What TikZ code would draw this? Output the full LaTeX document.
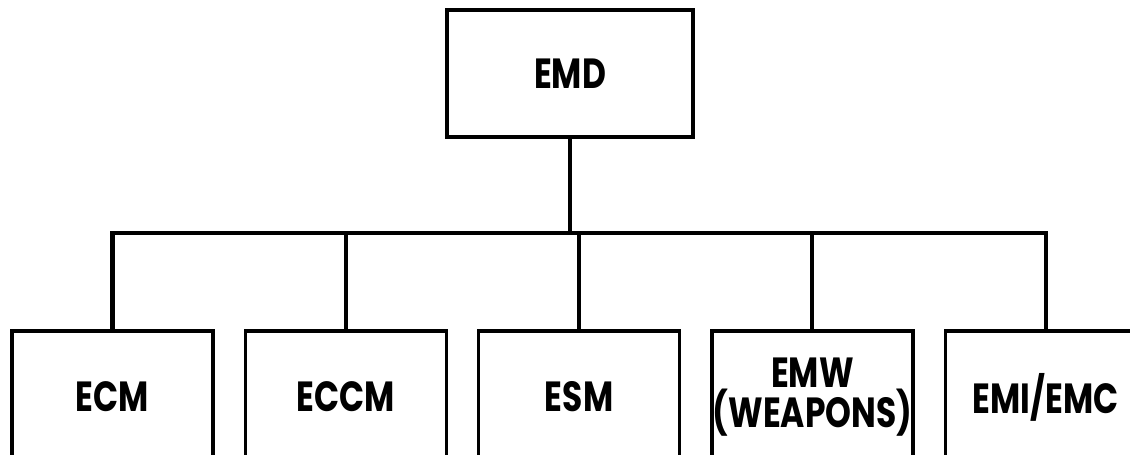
\documentclass[tikz,border=0pt]{standalone}
\usepackage{fontspec}
\setmainfont{Poppins}[FakeStretch=0.78]
\usetikzlibrary{positioning}
\begin{document}
\begin{tikzpicture}[x=0.02cm,y=0.02cm,node distance=0.58cm,
   unit/.style={draw,line width=1.9pt,minimum width=4.02cm,minimum height=2.64cm,
     inner sep=0pt,align=center,font=\fontsize{24}{21.6}\selectfont\bfseries},
   link/.style={line width=2.4pt}]
   \useasboundingbox (0,0) rectangle (1130,-454);
   \node[unit,minimum width=4.92cm,minimum height=2.54cm] (emd) at (570,-73.5) {EMD};
   \node[unit] (ecm) at (112.5,-397) {ECM};
   \node[unit] (eccm) [right=of ecm] {ECCM};
   \node[unit] (esm) [right=of eccm] {ESM};
   \node[unit] (emw) [right=of esm] {EMW\\(WEAPONS)};
   \node[unit] (emi) [right=of emw] {EMI/EMC};
   \coordinate (bus) at (570,-233);
   \draw[link] (emd) -- (bus);
   \draw[link] (ecm.north) |- (bus) -| (emi.north);
   \foreach \n in {eccm,esm,emw}
     \draw[link] (\n.north) -- (\n.north |- bus);
\end{tikzpicture}
\end{document}
